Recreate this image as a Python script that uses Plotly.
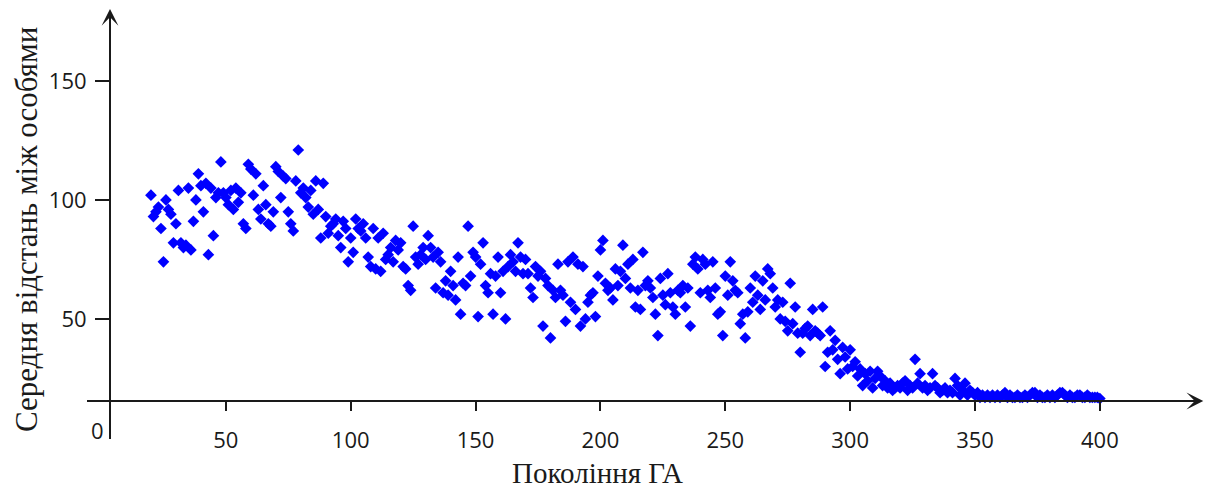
import plotly.graph_objects as go

# Generations (x) and mean distance between individuals (y)
generations = list(range(20, 401))
mean_distance = [
    102, 93, 95, 97, 88, 74, 100, 96, 94, 82,      # 20-29
    90, 104, 82, 80, 81, 105, 79, 91, 100, 111,    # 30-39
    106, 95, 107, 77, 105, 85, 101, 103, 116, 103, # 40-49
    101, 98, 104, 96, 105, 99, 103, 90, 88, 115,   # 50-59
    113, 102, 111, 96, 92, 106, 98, 90, 89, 95,    # 60-69
    114, 112, 101, 110, 109, 95, 90, 87, 108, 121, # 70-79
    103, 105, 101, 97, 104, 94, 108, 96, 84, 107,  # 80-89
    93, 86, 89, 90, 92, 85, 80, 91, 88, 74,        # 90-99
    84, 78, 92, 88, 87, 90, 84, 76, 72, 88,        # 100-109
    71, 84, 70, 86, 75, 77, 80, 74, 83, 79,        # 110-119
    82, 72, 71, 64, 62, 89, 76, 73, 77, 80,        # 120-129
    75, 85, 80, 76, 63, 78, 74, 61, 66, 60,        # 130-139
    70, 64, 58, 76, 52, 65, 64, 89, 68, 78,        # 140-149
    76, 51, 73, 82, 64, 61, 69, 52, 68, 76,        # 150-159
    61, 70, 50, 72, 77, 74, 70, 82, 76, 69,        # 160-169
    75, 69, 63, 59, 72, 68, 70, 47, 67, 64,        # 170-179
    42, 62, 59, 73, 62, 60, 49, 74, 57, 76,        # 180-189
    54, 73, 47, 72, 50, 57, 60, 61, 51, 68,        # 190-199
    79, 83, 65, 62, 63, 58, 71, 64, 70, 81,        # 200-209
    67, 73, 63, 75, 55, 62, 54, 78, 64, 66,        # 210-219
    63, 59, 52, 43, 67, 60, 56, 69, 61, 55,        # 220-229
    52, 62, 61, 64, 55, 63, 47, 73, 76, 71,        # 230-239
    61, 75, 73, 62, 59, 74, 63, 52, 53, 43,        # 240-249
    68, 60, 74, 66, 62, 61, 48, 52, 42, 53,        # 250-259
    63, 57, 68, 60, 54, 66, 58, 71, 69, 63,        # 260-269
    55, 58, 50, 57, 49, 45, 65, 48, 55, 44,        # 270-279
    36, 44, 46, 47, 43, 54, 45, 44, 43, 55,        # 280-289
    30, 36, 45, 37, 41, 33, 27, 38, 34, 29,        # 290-299
    37, 30, 32, 26, 29, 22, 27, 24, 28, 21,        # 300-309
    25, 28, 26, 22, 24, 21, 23, 20, 21, 22,        # 310-319
    21, 23, 24, 20, 22, 21, 33, 23, 27, 21,        # 320-329
    22, 20, 21, 27, 22, 21, 19, 20, 21, 19,        # 330-339
    20, 19, 25, 22, 18, 20, 23, 18, 20, 19,        # 340-349
    18, 19, 17, 18, 17, 18, 17, 18, 17, 18,        # 350-359
    17, 18, 19, 17, 18, 17, 17, 18, 17, 17,        # 360-369
    18, 17, 18, 19, 19, 17, 18, 17, 17, 18,        # 370-379
    17, 18, 17, 18, 19, 19, 18, 17, 18, 17,        # 380-389
    17, 18, 18, 17, 17, 18, 17, 17, 17, 17,        # 390-399
    16.5,                                          # 400
]

x_ticks = [50, 100, 150, 200, 250, 300, 350, 400]
y_ticks = [50, 100, 150]
x_title = "Покоління ГА"
y_title = "Середня відстань між особями"
origin_label = "0"

axis_color = "#1a1a1a"
tick_font = dict(family="Open Sans, sans-serif", size=22, color="#1a1a1a")
title_font = dict(family="Liberation Serif, Times New Roman, serif", size=29, color="#1a1a1a")
ytitle_font = dict(family="Liberation Serif, Times New Roman, serif", size=31, color="#1a1a1a")

fig = go.Figure()
fig.add_trace(go.Scatter(
    x=generations, y=mean_distance, mode="markers",
    marker=dict(symbol="diamond", size=9, color="#0000FF", line=dict(width=0)),
    cliponaxis=False, showlegend=False,
))

fig.update_layout(
    width=1217, height=488,
    margin=dict(l=110, r=17, t=12, b=87),
    paper_bgcolor="white", plot_bgcolor="white",
    xaxis=dict(range=[3.6, 440.1], tickvals=x_ticks, ticktext=[str(v) for v in x_ticks],
               ticks="outside", ticklen=9, tickwidth=1.5, tickcolor=axis_color,
               showgrid=False, zeroline=False, showline=False, tickfont=tick_font,
               ticklabelstandoff=11),
    yaxis=dict(range=[15.5, 179], tickvals=y_ticks, ticktext=[str(v) for v in y_ticks],
               ticks="outside", ticklen=14, tickwidth=1.5, tickcolor=axis_color,
               showgrid=False, zeroline=False, showline=False, tickfont=tick_font,
               ticklabelstandoff=4),
    shapes=[
        dict(type="line", xref="paper", yref="paper", x0=-0.0211, x1=0.995, y0=0, y1=0,
             line=dict(color=axis_color, width=2)),
        dict(type="line", xref="paper", yref="paper", x0=0, x1=0, y0=-0.0977, y1=0.99,
             line=dict(color=axis_color, width=2)),
    ],
    annotations=[
        dict(xref="paper", yref="paper", x=1.003, y=0, ax=-30, ay=0, text="",
             showarrow=True, arrowhead=3, arrowsize=1.4, arrowwidth=2, arrowcolor=axis_color),
        dict(xref="paper", yref="paper", x=0, y=1.008, ax=0, ay=30, text="",
             showarrow=True, arrowhead=3, arrowsize=1.4, arrowwidth=2, arrowcolor=axis_color),
        dict(xref="paper", yref="paper", x=-0.0119, y=-0.0746, text=origin_label,
             showarrow=False, font=tick_font, xanchor="center", yanchor="middle"),
        dict(xref="paper", yref="paper", x=-0.0761, y=0.4396, text=y_title, textangle=-90,
             showarrow=False, font=ytitle_font, xanchor="center", yanchor="middle"),
        dict(xref="paper", yref="paper", x=0.4477, y=-0.186, text=x_title,
             showarrow=False, font=title_font, xanchor="center", yanchor="middle"),
    ],
)

fig.write_html("out.html")
